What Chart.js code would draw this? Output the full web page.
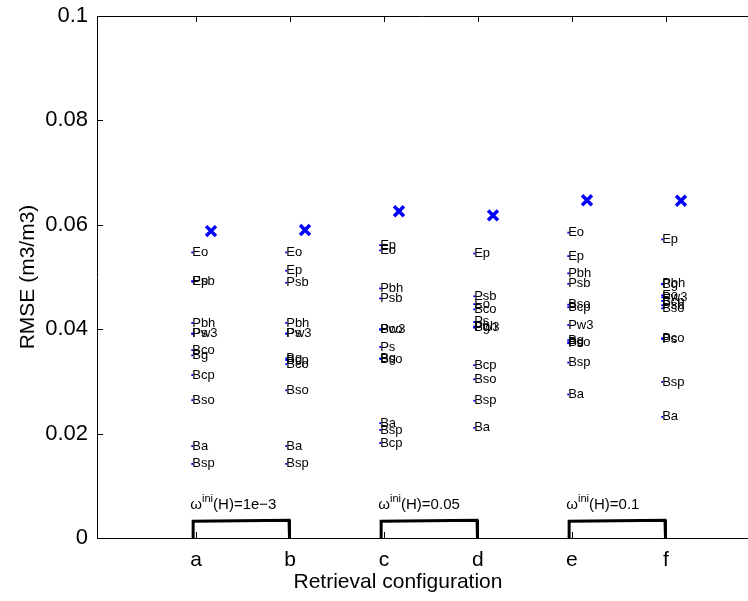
<!DOCTYPE html>
<html>
<head>
<meta charset="utf-8">
<script src="https://cdn.jsdelivr.net/npm/chart.js@4.4.0/dist/chart.umd.min.js"></script>
<style>
    html, body { margin: 0; padding: 0; background: #fff; }
    #wrap { width: 748px; height: 601px; }
</style>
</head>
<body>
<div id="wrap"><canvas id="rmseChart" width="748" height="601"></canvas></div>
<script>
const categories = ['a', 'b', 'c', 'd', 'e', 'f'];
const stationNames = ['Eo', 'Ep', 'Psb', 'Pbh', 'Ps', 'Pw3', 'Bco', 'Bg', 'Bcp', 'Bso', 'Ba', 'Bsp'];

// RMSE per station, same order as stationNames
const rmseA = [0.0547, 0.0492, 0.0491, 0.0412, 0.0392, 0.0391, 0.0360, 0.0350, 0.0312, 0.0264, 0.0176, 0.0142];
const rmseB = [0.0547, 0.0512, 0.0489, 0.0412, 0.0392, 0.0391, 0.0333, 0.0344, 0.0341, 0.0283, 0.0176, 0.0142];
const rmseC = [0.0551, 0.0561, 0.0459, 0.0478, 0.0366, 0.0399, 0.0400, 0.0344, 0.0182, 0.0343, 0.0220, 0.0207];
const rmseD = [0.0448, 0.0545, 0.0463, 0.0405, 0.0414, 0.0404, 0.0438, 0.0403, 0.0331, 0.0304, 0.0211, 0.0263];
const rmseE = [0.0585, 0.0540, 0.0487, 0.0507, 0.0373, 0.0408, 0.0375, 0.0379, 0.0442, 0.0447, 0.0275, 0.0336];
const rmseF = [0.0465, 0.0572, 0.0446, 0.0487, 0.0381, 0.0461, 0.0383, 0.0486, 0.0454, 0.0440, 0.0232, 0.0299];
const rmseOverall = [0.0588, 0.0590, 0.0626, 0.0618, 0.0647, 0.0646];

const yTicks = [0, 0.02, 0.04, 0.06, 0.08, 0.1];

// bracket groups: pairs of configurations sharing the same omega
const bracketPairs = [[1, 2], [3, 4], [5, 6]];
const omegaValues = ['1e\u22123', '0.05', '0.1'];

const allRmse = [rmseA, rmseB, rmseC, rmseD, rmseE, rmseF];

const DOT_OFF = -0.04;
const CROSS_OFF = 0.16;
const FONT = '"Liberation Sans", Arial, Helvetica, sans-serif';

const dotData = [];
allRmse.forEach((vals, i) => {
    vals.forEach(v => dotData.push({ x: i + 1 + DOT_OFF, y: v }));
});
const crossData = rmseOverall.map((v, i) => ({ x: i + 1 + CROSS_OFF, y: v }));

const bracketDatasets = bracketPairs.map(p => ({
    type: 'line',
    data: [
        { x: p[0] - 0.03, y: 0 },
        { x: p[0] - 0.03, y: 0.0032 },
        { x: p[1] - 0.01, y: 0.0034 },
        { x: p[1] - 0.005, y: 0 }
    ],
    borderColor: '#000',
    borderWidth: 3,
    pointRadius: 0,
    fill: false,
    tension: 0,
    clip: false
}));

const annotatePlugin = {
    id: 'annotate',
    afterDatasetsDraw(chart) {
        const ctx = chart.ctx;
        const xs = chart.scales.x;
        const ys = chart.scales.y;
        const area = chart.chartArea;
        ctx.save();

        // station labels next to each dot
        ctx.fillStyle = '#000';
        ctx.font = '13px ' + FONT;
        ctx.textAlign = 'left';
        ctx.textBaseline = 'middle';
        allRmse.forEach((vals, i) => {
            vals.forEach((v, j) => {
                const px = xs.getPixelForValue(i + 1 + DOT_OFF);
                const py = ys.getPixelForValue(v);
                ctx.fillText(stationNames[j], px, py);
            });
        });

        // omega annotations above brackets
        bracketPairs.forEach((p, k) => {
            let px = xs.getPixelForValue(p[0] - 0.06);
            const py = ys.getPixelForValue(0.0065);
            ctx.font = '15px ' + FONT;
            ctx.textBaseline = 'alphabetic';
            ctx.fillText('\u03c9', px, py + 5);
            px += ctx.measureText('\u03c9').width;
            ctx.font = '11px ' + FONT;
            ctx.fillText('ini', px, py - 2);
            px += ctx.measureText('ini').width;
            ctx.font = '15px ' + FONT;
            ctx.fillText('(H)=' + omegaValues[k], px, py + 5);
        });

        // box and inward ticks
        ctx.strokeStyle = '#000';
        ctx.lineWidth = 1;
        ctx.beginPath();
        ctx.moveTo(area.left, area.top + 0.5);
        ctx.lineTo(chart.width, area.top + 0.5);
        yTicks.forEach(t => {
            const py = Math.round(ys.getPixelForValue(t)) + 0.5;
            ctx.moveTo(area.left, py);
            ctx.lineTo(area.left + 6, py);
        });
        categories.forEach((c, i) => {
            const px = Math.round(xs.getPixelForValue(i + 1)) + 0.5;
            ctx.moveTo(px, area.bottom);
            ctx.lineTo(px, area.bottom - 6);
            ctx.moveTo(px, area.top);
            ctx.lineTo(px, area.top + 6);
        });
        ctx.stroke();

        // axis titles
        ctx.fillStyle = '#000';
        ctx.font = '21px ' + FONT;
        ctx.textAlign = 'center';
        ctx.textBaseline = 'middle';
        ctx.fillText('Retrieval configuration', 398, 582);
        ctx.translate(28, (area.top + area.bottom) / 2);
        ctx.rotate(-Math.PI / 2);
        ctx.fillText('RMSE (m3/m3)', 0, 0);
        ctx.restore();
    }
};

new Chart(document.getElementById('rmseChart'), {
    type: 'scatter',
    data: {
        datasets: [
            {
                data: dotData,
                backgroundColor: '#0000ff',
                borderColor: '#0000ff',
                pointStyle: 'rect',
                pointRadius: 1.3,
                borderWidth: 0
            },
            {
                data: crossData,
                pointStyle: 'crossRot',
                pointRadius: 7,
                borderColor: '#0000ff',
                borderWidth: 3.5
            },
            ...bracketDatasets
        ]
    },
    options: {
        responsive: false,
        animation: false,
        events: [],
        layout: { autoPadding: false, padding: { left: 0, right: 0, top: 16, bottom: 0 } },
        plugins: {
            legend: { display: false },
            tooltip: { enabled: false }
        },
        scales: {
            x: {
                type: 'linear',
                min: -0.053,
                max: 6.873,
                afterBuildTicks: scale => {
                    scale.ticks = categories.map((c, i) => ({ value: i + 1 }));
                },
                afterFit: scale => {
                    scale.height = 63;
                    scale.paddingLeft = 0;
                    scale.paddingRight = 0;
                },
                grid: { display: false, drawTicks: false },
                border: { display: true, color: '#000', width: 1 },
                ticks: {
                    color: '#000',
                    padding: 10,
                    maxRotation: 0,
                    font: { size: 21, family: FONT },
                    callback: v => categories[v - 1]
                }
            },
            y: {
                min: 0,
                max: 0.1,
                afterBuildTicks: scale => {
                    scale.ticks = yTicks.map(v => ({ value: v }));
                },
                afterFit: scale => {
                    scale.width = 97;
                    scale.paddingTop = 0;
                    scale.paddingBottom = 0;
                },
                grid: { display: false, drawTicks: false },
                border: { display: true, color: '#000', width: 1 },
                ticks: {
                    color: '#000',
                    padding: 9,
                    font: { size: 22, family: FONT },
                    callback: v => String(Number(v.toFixed(2)))
                }
            }
        }
    },
    plugins: [annotatePlugin]
});
</script>
</body>
</html>
